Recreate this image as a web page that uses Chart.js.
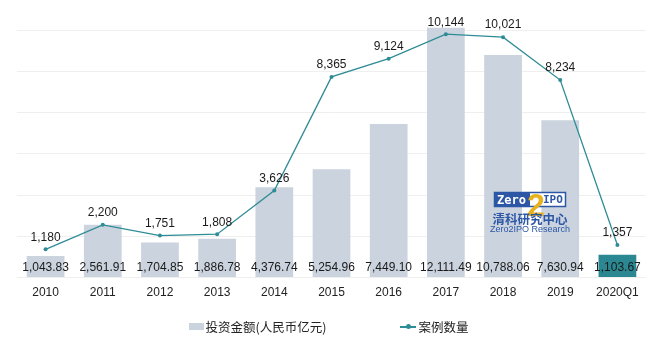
<!DOCTYPE html>
<html>
<head>
<meta charset="utf-8">
<script src="https://cdn.jsdelivr.net/npm/chart.js@4/dist/chart.umd.min.js"></script>
<style>
    html, body { margin: 0; padding: 0; background: #fff; }
    #wrap { position: relative; width: 657px; height: 342px; }
    #legend {
        position: absolute; left: 0; top: 317px; width: 657px;
        display: flex; justify-content: center; gap: 74px;
        font-family: "Noto Sans CJK SC", sans-serif; font-size: 12.5px; color: #222;
    }
    .lg-item { display: flex; align-items: center; }
    .lg-box { width: 15px; height: 7px; background: #cbd3de; margin-right: 2px; }
    .lg-line { position: relative; width: 16px; height: 2px; background: #2e8c96; margin-right: 2px; }
    .lg-line::after {
        content: ''; position: absolute; left: 6px; top: -2px; width: 5px; height: 5px;
        border-radius: 50%; background: #2e8c96;
    }
</style>
</head>
<body>
<div id="wrap">
    <canvas id="chart" width="657" height="342"></canvas>
    <div id="legend">
        <div class="lg-item"><span class="lg-box"></span>投资金额(人民币亿元)</div>
        <div class="lg-item"><span class="lg-line"></span>案例数量</div>
    </div>
</div>
<script>
const categories = ['2010', '2011', '2012', '2013', '2014', '2015', '2016', '2017', '2018', '2019', '2020Q1'];
const amountValues = [1043.83, 2561.91, 1704.85, 1886.78, 4376.74, 5254.96, 7449.10, 12111.49, 10788.06, 7630.94, 1103.67];
const dealCounts = [1180, 2200, 1751, 1808, 3626, 8365, 9124, 10144, 10021, 8234, 1357];

const barColor = '#cbd3de';
const lastBarColor = '#2b8892';
const lineColor = '#2e8c96';
const labelFont = '12px "Liberation Sans", Arial, sans-serif';

const fmtAmount = v => v.toLocaleString('en-US', { minimumFractionDigits: 2, maximumFractionDigits: 2 });
const fmtCount = v => v.toLocaleString('en-US');

// watermark + value labels
const labelPlugin = {
    id: 'valueLabels',
    afterDatasetsDraw(chart) {
        const ctx = chart.ctx;
        const area = chart.chartArea;
        drawLogo(ctx);

        ctx.save();
        ctx.font = labelFont;
        ctx.fillStyle = '#1a1a1a';
        ctx.textAlign = 'center';
        ctx.textBaseline = 'middle';

        const barMeta = chart.getDatasetMeta(1);
        barMeta.data.forEach((el, i) => {
            ctx.fillText(fmtAmount(amountValues[i]), el.x, area.bottom - 10);
        });

        const lineMeta = chart.getDatasetMeta(0);
        lineMeta.data.forEach((el, i) => {
            ctx.fillText(fmtCount(dealCounts[i]), el.x, el.y - 12);
        });
        ctx.restore();
    }
};

function drawLogo(ctx) {
    const x = 494, y = 192, w = 72, h = 15;
    ctx.save();
    ctx.fillStyle = '#fff';
    ctx.fillRect(x, y, w, h);
    ctx.fillStyle = '#2c57a6';
    ctx.fillRect(x, y, 36, h);
    ctx.strokeStyle = '#2c57a6';
    ctx.lineWidth = 1.5;
    ctx.strokeRect(x + 0.5, y + 0.5, w - 1, h - 1);

    ctx.textBaseline = 'middle';
    ctx.textAlign = 'left';
    ctx.font = 'bold 12px "DejaVu Sans Mono", monospace';
    ctx.fillStyle = '#fff';
    ctx.fillText('Zero', x + 3, y + h / 2 + 1);
    ctx.fillStyle = '#2c57a6';
    ctx.font = 'bold 11px "DejaVu Sans Mono", monospace';
    ctx.fillText('IPO', x + 49, y + h / 2 + 1);

    ctx.fillStyle = '#e7b21e';
    ctx.font = 'bold 32px "Liberation Sans", Arial, sans-serif';
    ctx.textAlign = 'center';
    ctx.fillText('2', x + 42, y + 15);

    ctx.fillStyle = '#2c57a6';
    ctx.font = 'bold 12.5px "Noto Sans CJK SC", sans-serif';
    ctx.fillText('清科研究中心', x + w / 2, y + 27);
    ctx.font = '9px "Liberation Sans", Arial, sans-serif';
    ctx.fillText('Zero2IPO Research', x + w / 2, y + 38);
    ctx.restore();
}

new Chart(document.getElementById('chart'), {
    data: {
        labels: categories,
        datasets: [
            {
                type: 'line',
                label: '案例数量',
                data: dealCounts,
                yAxisID: 'yCount',
                borderColor: lineColor,
                backgroundColor: lineColor,
                borderWidth: 1.3,
                pointRadius: 2,
                pointBorderWidth: 0,
                tension: 0,
                order: 0
            },
            {
                type: 'bar',
                label: '投资金额(人民币亿元)',
                data: amountValues,
                yAxisID: 'y',
                backgroundColor: amountValues.map((v, i) => i === amountValues.length - 1 ? lastBarColor : barColor),
                barPercentage: 0.66,
                categoryPercentage: 1,
                clip: false,
                order: 1
            }
        ]
    },
    options: {
        responsive: false,
        animation: false,
        layout: { padding: { left: 17, right: 11, top: 30, bottom: 42 } },
        plugins: {
            legend: { display: false },
            tooltip: { enabled: false }
        },
        scales: {
            x: {
                grid: { display: false },
                border: { display: false },
                ticks: {
                    color: '#222',
                    padding: 0,
                    font: { family: '"Liberation Sans", Arial, sans-serif', size: 12 }
                }
            },
            y: {
                min: 0,
                max: 12000,
                ticks: { display: false, stepSize: 2000 },
                grid: { color: '#efefef', drawTicks: false },
                border: { display: false }
            },
            yCount: {
                display: false,
                min: 0,
                max: 10320
            }
        }
    },
    plugins: [labelPlugin]
});
</script>
</body>
</html>
